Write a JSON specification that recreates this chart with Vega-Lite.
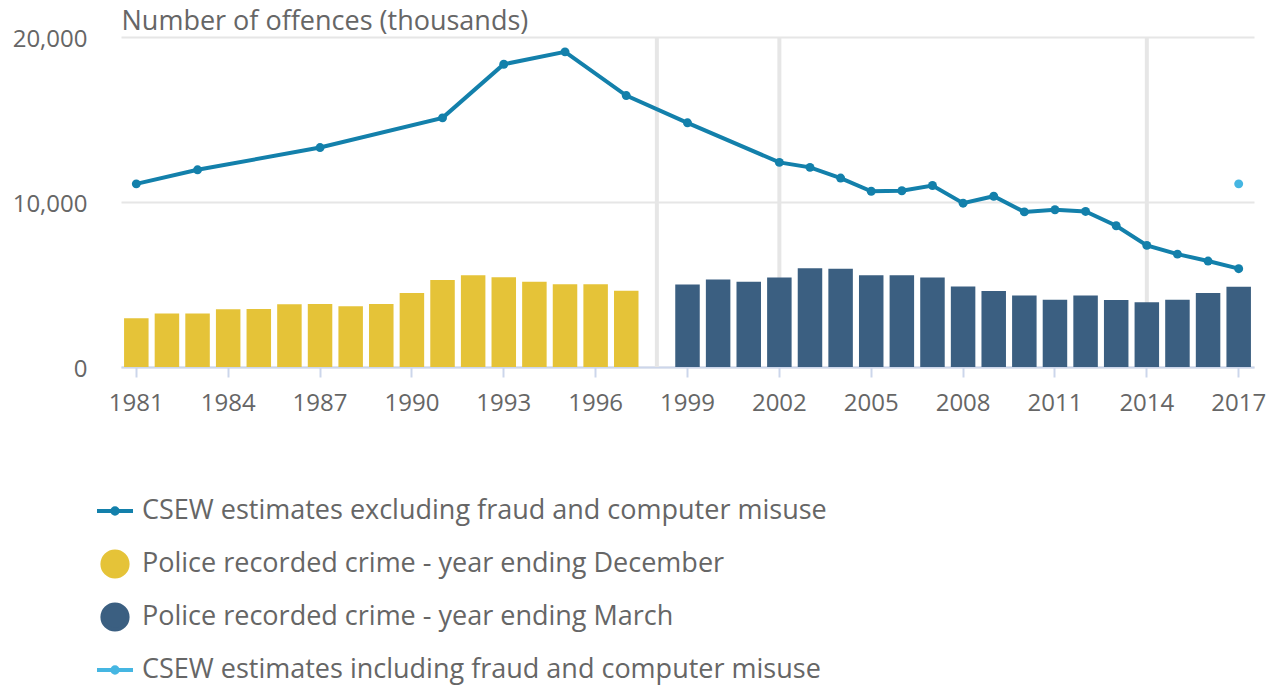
{
  "$schema": "https://vega.github.io/schema/vega-lite/v6.json",
  "width": 1133,
  "height": 330,
  "autosize": {"type": "none"},
  "padding": {"left": 121, "top": 37, "right": 20, "bottom": 321},
  "background": "white",
  "config": {
    "view": {"stroke": null},
    "font": "Open Sans",
    "axis": {"labelFont": "Open Sans", "titleFont": "Open Sans", "labelColor": "#666666", "titleColor": "#666666"},
    "legend": {"labelFont": "Open Sans"}
  },
  "datasets": {
    "main": [
      {"year": 1981, "series": "CSEW estimates excluding fraud and computer misuse", "value": 11100},
      {"year": 1983, "series": "CSEW estimates excluding fraud and computer misuse", "value": 11950},
      {"year": 1987, "series": "CSEW estimates excluding fraud and computer misuse", "value": 13300},
      {"year": 1991, "series": "CSEW estimates excluding fraud and computer misuse", "value": 15100},
      {"year": 1993, "series": "CSEW estimates excluding fraud and computer misuse", "value": 18350},
      {"year": 1995, "series": "CSEW estimates excluding fraud and computer misuse", "value": 19100},
      {"year": 1997, "series": "CSEW estimates excluding fraud and computer misuse", "value": 16450},
      {"year": 1999, "series": "CSEW estimates excluding fraud and computer misuse", "value": 14800},
      {"year": 2002, "series": "CSEW estimates excluding fraud and computer misuse", "value": 12400},
      {"year": 2003, "series": "CSEW estimates excluding fraud and computer misuse", "value": 12100},
      {"year": 2004, "series": "CSEW estimates excluding fraud and computer misuse", "value": 11450},
      {"year": 2005, "series": "CSEW estimates excluding fraud and computer misuse", "value": 10650},
      {"year": 2006, "series": "CSEW estimates excluding fraud and computer misuse", "value": 10680},
      {"year": 2007, "series": "CSEW estimates excluding fraud and computer misuse", "value": 11000},
      {"year": 2008, "series": "CSEW estimates excluding fraud and computer misuse", "value": 9930},
      {"year": 2009, "series": "CSEW estimates excluding fraud and computer misuse", "value": 10350},
      {"year": 2010, "series": "CSEW estimates excluding fraud and computer misuse", "value": 9400},
      {"year": 2011, "series": "CSEW estimates excluding fraud and computer misuse", "value": 9530},
      {"year": 2012, "series": "CSEW estimates excluding fraud and computer misuse", "value": 9430},
      {"year": 2013, "series": "CSEW estimates excluding fraud and computer misuse", "value": 8560},
      {"year": 2014, "series": "CSEW estimates excluding fraud and computer misuse", "value": 7370},
      {"year": 2015, "series": "CSEW estimates excluding fraud and computer misuse", "value": 6840},
      {"year": 2016, "series": "CSEW estimates excluding fraud and computer misuse", "value": 6420},
      {"year": 2017, "series": "CSEW estimates excluding fraud and computer misuse", "value": 5960},
      {"year": 2017, "series": "CSEW estimates including fraud and computer misuse", "value": 11100},
      {"year": 1981, "series": "Police recorded crime - year ending December", "value": 2960},
      {"year": 1982, "series": "Police recorded crime - year ending December", "value": 3250},
      {"year": 1983, "series": "Police recorded crime - year ending December", "value": 3240},
      {"year": 1984, "series": "Police recorded crime - year ending December", "value": 3500},
      {"year": 1985, "series": "Police recorded crime - year ending December", "value": 3520},
      {"year": 1986, "series": "Police recorded crime - year ending December", "value": 3800},
      {"year": 1987, "series": "Police recorded crime - year ending December", "value": 3820},
      {"year": 1988, "series": "Police recorded crime - year ending December", "value": 3680},
      {"year": 1989, "series": "Police recorded crime - year ending December", "value": 3820},
      {"year": 1990, "series": "Police recorded crime - year ending December", "value": 4480},
      {"year": 1991, "series": "Police recorded crime - year ending December", "value": 5280},
      {"year": 1992, "series": "Police recorded crime - year ending December", "value": 5560},
      {"year": 1993, "series": "Police recorded crime - year ending December", "value": 5440},
      {"year": 1994, "series": "Police recorded crime - year ending December", "value": 5170},
      {"year": 1995, "series": "Police recorded crime - year ending December", "value": 5020},
      {"year": 1996, "series": "Police recorded crime - year ending December", "value": 5010},
      {"year": 1997, "series": "Police recorded crime - year ending December", "value": 4620},
      {"year": 1999, "series": "Police recorded crime - year ending March", "value": 5000},
      {"year": 2000, "series": "Police recorded crime - year ending March", "value": 5300},
      {"year": 2001, "series": "Police recorded crime - year ending March", "value": 5170},
      {"year": 2002, "series": "Police recorded crime - year ending March", "value": 5430},
      {"year": 2003, "series": "Police recorded crime - year ending March", "value": 5980},
      {"year": 2004, "series": "Police recorded crime - year ending March", "value": 5960},
      {"year": 2005, "series": "Police recorded crime - year ending March", "value": 5560},
      {"year": 2006, "series": "Police recorded crime - year ending March", "value": 5560},
      {"year": 2007, "series": "Police recorded crime - year ending March", "value": 5430},
      {"year": 2008, "series": "Police recorded crime - year ending March", "value": 4880},
      {"year": 2009, "series": "Police recorded crime - year ending March", "value": 4600},
      {"year": 2010, "series": "Police recorded crime - year ending March", "value": 4340},
      {"year": 2011, "series": "Police recorded crime - year ending March", "value": 4080},
      {"year": 2012, "series": "Police recorded crime - year ending March", "value": 4340},
      {"year": 2013, "series": "Police recorded crime - year ending March", "value": 4060},
      {"year": 2014, "series": "Police recorded crime - year ending March", "value": 3930},
      {"year": 2015, "series": "Police recorded crime - year ending March", "value": 4070},
      {"year": 2016, "series": "Police recorded crime - year ending March", "value": 4480},
      {"year": 2017, "series": "Police recorded crime - year ending March", "value": 4870}
    ],
    "breaks": [{"year": 1998}, {"year": 2002}, {"year": 2014}]
  },
  "encoding": {
    "x": {
      "field": "year",
      "type": "ordinal",
      "scale": {
        "domain": [1981,1982,1983,1984,1985,1986,1987,1988,1989,1990,1991,1992,1993,1994,1995,1996,1997,1998,1999,2000,2001,2002,2003,2004,2005,2006,2007,2008,2009,2010,2011,2012,2013,2014,2015,2016,2017],
        "paddingInner": 0.2,
        "paddingOuter": 0.1
      },
      "axis": {
        "title": null,
        "values": [1981,1984,1987,1990,1993,1996,1999,2002,2005,2008,2011,2014,2017],
        "labelAngle": 0,
        "labelFontSize": 24,
        "labelPadding": 14,
        "tickColor": "#ccd6eb",
        "tickSize": 10,
        "tickWidth": 2,
        "domainColor": "#ccd6eb",
        "domainWidth": 2,
        "grid": false
      }
    }
  },
  "layer": [
    {
      "data": {"name": "breaks"},
      "mark": {"type": "rule", "color": "#e6e6e6", "strokeWidth": 4},
      "encoding": {}
    },
    {
      "data": {"name": "main"},
      "encoding": {
        "y": {
          "field": "value",
          "type": "quantitative",
          "scale": {"domain": [0, 20000], "nice": false},
          "axis": {
            "values": [0, 10000, 20000],
            "format": ",d",
            "title": "Number of offences (thousands)",
            "titleAngle": 0,
            "titleX": 0,
            "titleY": -16,
            "titleAlign": "left",
            "titleBaseline": "middle",
            "titleFontSize": 27,
            "titleFontWeight": "normal",
            "labelFontSize": 24,
            "labelPadding": 34,
            "labelOffset": 2,
            "ticks": false,
            "tickSize": 0,
            "domain": false,
            "grid": true,
            "gridColor": "#e6e6e6",
            "gridWidth": 2
          }
        },
        "color": {
          "field": "series",
          "type": "nominal",
          "scale": {
            "domain": ["CSEW estimates excluding fraud and computer misuse", "Police recorded crime - year ending December", "Police recorded crime - year ending March", "CSEW estimates including fraud and computer misuse"],
            "range": ["#1380ab", "#e5c338", "#3b5f81", "#45b6e2"]
          },
          "legend": {
            "orient": "none",
            "legendX": -26,
            "legendY": 454,
            "direction": "vertical",
            "title": null,
            "padding": 0,
            "symbolSize": 1296,
            "rowPadding": 11,
            "labelOffset": 7,
            "labelFontSize": 27,
            "labelColor": "#666666",
            "labelLimit": 1000,
            "encode": {
              "symbols": {
                "update": {
                  "shape": {"signal": "indexof(datum.value, 'Police') === 0 ? 'M-0.7,0a0.7,0.7 0 1,0 1.4,0a0.7,0.7 0 1,0 -1.4,0' : 'M0,-0.7M0,0.7M-1,0H1M-0.15,0a0.15,0.15 0 1,0 0.3,0a0.15,0.15 0 1,0 -0.3,0'"},
                  "fill": {"scale": "color", "field": "value"},
                  "stroke": {"scale": "color", "field": "value"},
                  "strokeWidth": {"value": 4},
                  "opacity": {"value": 1}
                }
              }
            }
          }
        }
      },
      "layer": [
        {
          "transform": [{"filter": "indexof(datum.series, 'Police') === 0"}],
          "mark": {"type": "bar"}
        },
        {
          "transform": [{"filter": "datum.series === 'CSEW estimates excluding fraud and computer misuse'"}],
          "mark": {"type": "line", "strokeWidth": 4, "point": {"filled": true, "size": 80}}
        },
        {
          "transform": [{"filter": "datum.series === 'CSEW estimates including fraud and computer misuse'"}],
          "mark": {"type": "point", "filled": true, "size": 80, "opacity": 1}
        }
      ]
    }
  ]
}
